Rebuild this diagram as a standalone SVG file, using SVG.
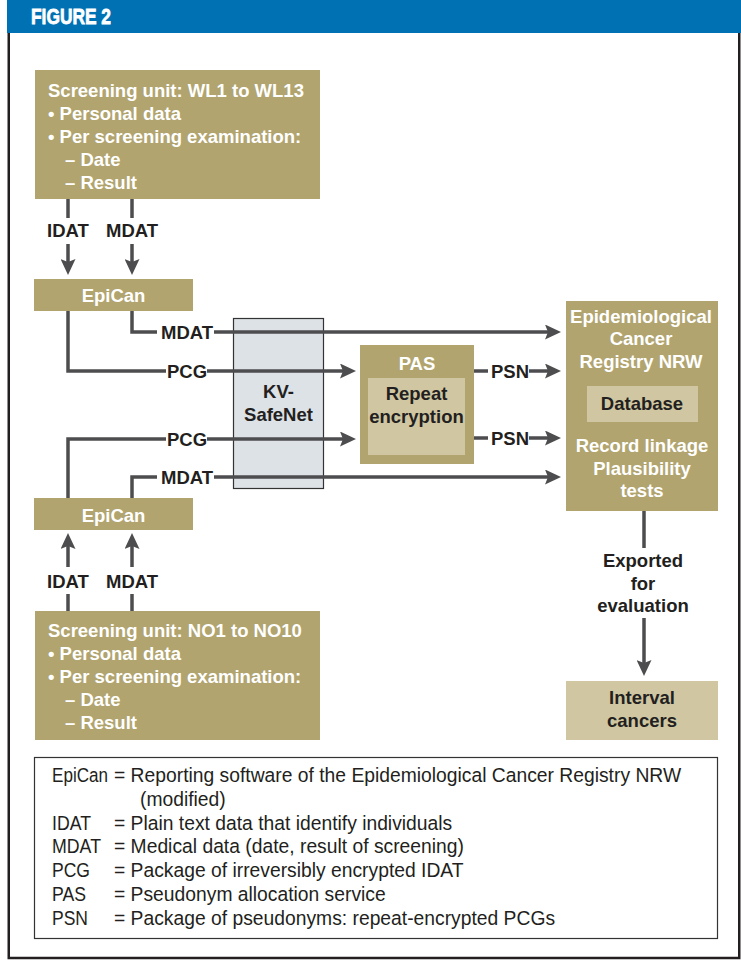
<svg xmlns="http://www.w3.org/2000/svg" width="741" height="960" viewBox="0 0 741 960">
<defs>
<style>
.tan{fill:#b1a46e}
.ltan{fill:#d0c7a2}
.wb{font-family:"Liberation Sans",Arial,sans-serif;font-weight:bold;font-size:18.5px;fill:#ffffff}
.db{font-family:"Liberation Sans",Arial,sans-serif;font-weight:bold;font-size:18.5px;fill:#231f20}
.lg{font-family:"Liberation Sans",Arial,sans-serif;font-size:19.3px;fill:#231f20}
.c{text-anchor:middle}
.ln{fill:none;stroke:#4d4d4f;stroke-width:3.5}
.ar{fill:none;stroke:#4d4d4f;stroke-width:3.5;marker-end:url(#ah)}
</style>
<marker id="ah" viewBox="0 0 16 15" refX="8" refY="7.5" markerWidth="16" markerHeight="15" markerUnits="userSpaceOnUse" orient="auto">
<path d="M0,0 L16,7.5 L0,15 L3,7.5 z" fill="#4d4d4f"/>
</marker>
</defs>
<rect x="0" y="0" width="741" height="960" fill="#ffffff"/>
<rect x="8.75" y="20" width="730.5" height="938" fill="none" stroke="#231f20" stroke-width="2.5"/>
<g id="header">
<rect x="7" y="0" width="734" height="33" fill="#0071b3"/>
<text x="31" y="23.5" font-family="Liberation Sans,Arial,sans-serif" font-weight="bold" font-size="22" fill="#ffffff" stroke="#ffffff" stroke-width="0.8" textLength="80" lengthAdjust="spacingAndGlyphs">FIGURE 2</text>
</g>
<g id="kvsafenet">
<rect x="233.5" y="318.5" width="90" height="170" fill="#dde2e7" stroke="#333333" stroke-width="1.2"/>
<text class="db c" x="278.5" y="398">KV-</text>
<text class="db c" x="278.5" y="421">SafeNet</text>
</g>
<g id="connectors">
<line class="ln" x1="68" y1="199" x2="68" y2="218"/>
<line class="ar" x1="68" y1="244" x2="68" y2="267"/>
<line class="ln" x1="132" y1="199" x2="132" y2="218"/>
<line class="ar" x1="132" y1="244" x2="132" y2="267"/>
<text class="db c" x="68" y="237">IDAT</text>
<text class="db c" x="132" y="237">MDAT</text>
<polyline class="ln" points="68,311 68,371 166,371"/>
<line class="ar" x1="207" y1="371" x2="348" y2="371"/>
<text class="db" x="167" y="378">PCG</text>
<polyline class="ln" points="132,311 132,332 157,332"/>
<line class="ar" x1="214" y1="332" x2="553" y2="332"/>
<text class="db" x="161" y="339">MDAT</text>
<polyline class="ln" points="68,498 68,439 166,439"/>
<line class="ar" x1="207" y1="439" x2="348" y2="439"/>
<text class="db" x="167" y="446">PCG</text>
<polyline class="ln" points="132,498 132,477 157,477"/>
<line class="ar" x1="214" y1="477" x2="553" y2="477"/>
<text class="db" x="161" y="484">MDAT</text>
<line class="ln" x1="474" y1="371" x2="488" y2="371"/>
<line class="ar" x1="529" y1="371" x2="553" y2="371"/>
<text class="db" x="491" y="378">PSN</text>
<line class="ln" x1="474" y1="438" x2="488" y2="438"/>
<line class="ar" x1="529" y1="438" x2="553" y2="438"/>
<text class="db" x="491" y="445">PSN</text>
<line class="ar" x1="68" y1="567" x2="68" y2="541"/>
<line class="ln" x1="68" y1="594" x2="68" y2="611"/>
<line class="ar" x1="132" y1="567" x2="132" y2="541"/>
<line class="ln" x1="132" y1="594" x2="132" y2="611"/>
<text class="db c" x="68" y="588">IDAT</text>
<text class="db c" x="132" y="588">MDAT</text>
<line class="ln" x1="644" y1="511" x2="644" y2="548"/>
<line class="ar" x1="644" y1="618" x2="644" y2="668"/>
<text class="db c" x="643" y="567">Exported</text>
<text class="db c" x="643" y="590">for</text>
<text class="db c" x="643" y="612">evaluation</text>
</g>
<g id="screening-wl">
<rect class="tan" x="35" y="70" width="285" height="129"/>
<text class="wb" x="48" y="97">Screening unit: WL1 to WL13</text>
<text class="wb" x="48" y="120">• Personal data</text>
<text class="wb" x="48" y="143">• Per screening examination:</text>
<text class="wb" x="65" y="166">– Date</text>
<text class="wb" x="65" y="189">– Result</text>
</g>
<g id="epican-top">
<rect class="tan" x="34" y="279" width="159" height="32"/>
<text class="wb c" x="113.5" y="302">EpiCan</text>
</g>
<g id="epican-bottom">
<rect class="tan" x="34" y="498" width="159" height="32"/>
<text class="wb c" x="113.5" y="522">EpiCan</text>
</g>
<g id="screening-no">
<rect class="tan" x="35" y="611" width="285" height="129"/>
<text class="wb" x="48" y="637">Screening unit: NO1 to NO10</text>
<text class="wb" x="48" y="660">• Personal data</text>
<text class="wb" x="48" y="683">• Per screening examination:</text>
<text class="wb" x="65" y="706">– Date</text>
<text class="wb" x="65" y="729">– Result</text>
</g>
<g id="pas">
<rect class="tan" x="360" y="345" width="114" height="119"/>
<text class="wb c" x="417" y="370">PAS</text>
<rect class="ltan" x="368" y="378" width="97" height="77"/>
<text class="db c" x="416.5" y="400">Repeat</text>
<text class="db c" x="416.5" y="423">encryption</text>
</g>
<g id="registry">
<rect class="tan" x="566" y="301" width="152" height="210"/>
<text class="wb c" x="641" y="323">Epidemiological</text>
<text class="wb c" x="641" y="345">Cancer</text>
<text class="wb c" x="641" y="368">Registry NRW</text>
<rect class="ltan" x="587" y="386" width="111" height="36"/>
<text class="db c" x="642" y="410">Database</text>
<text class="wb c" x="642" y="452">Record linkage</text>
<text class="wb c" x="642" y="475">Plausibility</text>
<text class="wb c" x="642" y="497">tests</text>
</g>
<g id="interval">
<rect class="ltan" x="566" y="681" width="152" height="59"/>
<text class="db c" x="642" y="704">Interval</text>
<text class="db c" x="642" y="727">cancers</text>
</g>
<g id="legend">
<rect x="34.5" y="757.5" width="683" height="181" fill="#ffffff" stroke="#333333" stroke-width="1.2"/>
<text class="lg" x="52" y="782" textLength="56" lengthAdjust="spacingAndGlyphs">EpiCan</text>
<text class="lg" x="114" y="782">= Reporting software of the Epidemiological Cancer Registry NRW</text>
<text class="lg" x="140" y="806">(modified)</text>
<text class="lg" x="52" y="830" textLength="39" lengthAdjust="spacingAndGlyphs">IDAT</text>
<text class="lg" x="114" y="830">= Plain text data that identify individuals</text>
<text class="lg" x="52" y="853" textLength="49" lengthAdjust="spacingAndGlyphs">MDAT</text>
<text class="lg" x="114" y="853">= Medical data (date, result of screening)</text>
<text class="lg" x="52" y="877" textLength="38" lengthAdjust="spacingAndGlyphs">PCG</text>
<text class="lg" x="114" y="877">= Package of irreversibly encrypted IDAT</text>
<text class="lg" x="52" y="901" textLength="34" lengthAdjust="spacingAndGlyphs">PAS</text>
<text class="lg" x="114" y="901">= Pseudonym allocation service</text>
<text class="lg" x="52" y="925" textLength="36" lengthAdjust="spacingAndGlyphs">PSN</text>
<text class="lg" x="114" y="925">= Package of pseudonyms: repeat-encrypted PCGs</text>
</g>
</svg>
